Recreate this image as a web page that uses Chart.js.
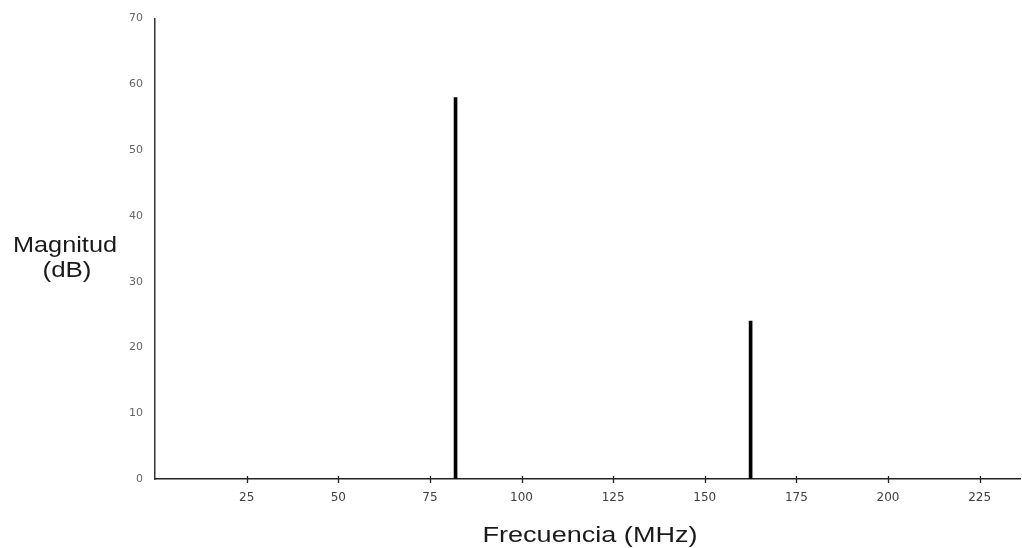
<!DOCTYPE html>
<html>
<head>
<meta charset="utf-8">
<script src="https://cdn.jsdelivr.net/npm/chart.js@4"></script>
<style>
html,body{margin:0;padding:0;background:#fff;}
#wrap{width:1022px;height:548px;position:relative;}
</style>
</head>
<body>
<div id="wrap"><canvas id="c" width="1022" height="548"></canvas></div>
<script>
const frequencies = [82, 162.5];
const magnitudes = [58, 24];
const xTickValues = [25, 50, 75, 100, 125, 150, 175, 200, 225];
const yTickValues = [0, 10, 20, 30, 40, 50, 60, 70];
const xTitle = 'Frecuencia (MHz)';
const yTitleLines = ['Magnitud', '(dB)'];

const points = frequencies.map((f, i) => ({x: f, y: magnitudes[i]}));

function stretchedText(ctx, text, cx, baseline, font, targetWidth) {
  ctx.save();
  ctx.font = font;
  const w = ctx.measureText(text).width;
  const sx = targetWidth / w;
  ctx.translate(cx, baseline);
  ctx.scale(sx, 1);
  ctx.textAlign = 'center';
  ctx.textBaseline = 'alphabetic';
  ctx.fillText(text, 0, 0);
  ctx.restore();
}

const overlay = {
  id: 'overlay',
  afterDraw(chart) {
    const ctx = chart.ctx;
    const xs = chart.scales.x, ys = chart.scales.y;
    const y0 = ys.getPixelForValue(0);
    ctx.save();
    ctx.strokeStyle = '#222';
    ctx.lineWidth = 1.3;
    xTickValues.forEach(v => {
      const px = Math.round(xs.getPixelForValue(v)) + 0.5;
      ctx.beginPath();
      ctx.moveTo(px, y0 - 3);
      ctx.lineTo(px, y0 + 4);
      ctx.stroke();
    });
    ctx.fillStyle = '#1a1a1a';
    stretchedText(ctx, xTitle, 590, 542, '22px "Liberation Sans", Arial, sans-serif', 215);
    stretchedText(ctx, yTitleLines[0], 65, 252, '22px "Liberation Sans", Arial, sans-serif', 104);
    stretchedText(ctx, yTitleLines[1], 67, 277, '22px "Liberation Sans", Arial, sans-serif', 49);
    ctx.restore();
  }
};

new Chart(document.getElementById('c'), {
  type: 'bar',
  data: {
    datasets: [{
      data: points,
      backgroundColor: '#000',
      borderWidth: 0,
      barThickness: 3
    }]
  },
  options: {
    responsive: false,
    animation: false,
    events: [],
    layout: {padding: {top: 18, right: 2, left: 0, bottom: 0}},
    plugins: {legend: {display: false}, tooltip: {enabled: false}},
    scales: {
      x: {
        type: 'linear',
        min: 0,
        max: 236,
        offset: false,
        grid: {display: false, drawTicks: false},
        border: {display: true, color: '#222', width: 1.5},
        afterBuildTicks: s => { s.ticks = xTickValues.map(v => ({value: v})); },
        ticks: {
          color: '#404040',
          font: {size: 12, family: '"DejaVu Sans", sans-serif'},
          padding: 12,
          maxRotation: 0,
          autoSkip: false
        },
        afterFit: s => { s.height = 548 - 479; }
      },
      y: {
        min: 0,
        max: 70,
        grid: {display: false, drawTicks: false},
        border: {display: true, color: '#333', width: 1.5},
        afterBuildTicks: s => { s.ticks = yTickValues.map(v => ({value: v})); },
        ticks: {
          color: '#666',
          font: {size: 11, family: '"DejaVu Sans", sans-serif'},
          padding: 12
        },
        afterFit: s => { s.width = 155; }
      }
    }
  },
  plugins: [overlay]
});
</script>
</body>
</html>
